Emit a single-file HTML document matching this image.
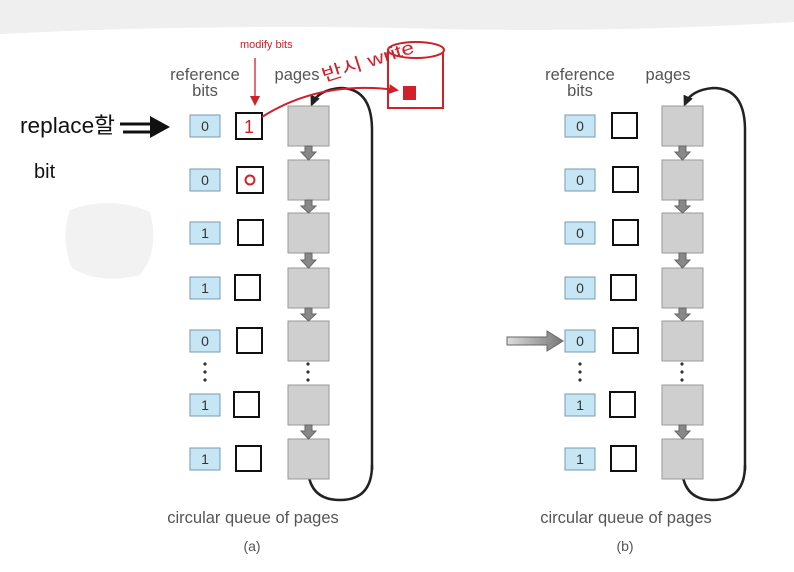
<!DOCTYPE html>
<html><head><meta charset="utf-8"><style>
body{margin:0;width:794px;height:567px;background:#fff;overflow:hidden;font-family:"Liberation Sans",sans-serif}
</style></head><body>
<svg width="794" height="567" xmlns="http://www.w3.org/2000/svg" font-family="Liberation Sans, Noto Sans CJK KR, sans-serif">
<defs>
<marker id="ah" markerUnits="userSpaceOnUse" markerWidth="12" markerHeight="12" refX="8" refY="6" orient="auto"><path d="M0,1 L11,6 L0,11 z" fill="#222"/></marker>
<marker id="rh" markerUnits="userSpaceOnUse" markerWidth="10" markerHeight="10" refX="7" refY="5" orient="auto"><path d="M0,0 L10,5 L0,10 z" fill="#d0202a"/></marker>
<linearGradient id="g" x1="0" x2="1"><stop offset="0" stop-color="#ddd"/><stop offset="1" stop-color="#777"/></linearGradient>
</defs>
<path d="M0,0 H794 V22 Q600,34 400,28 Q200,24 0,34 z" fill="#efefef"/>
<path d="M70,210 Q110,195 150,212 Q160,250 140,275 Q100,285 72,268 Q60,240 70,210z" fill="#f2f2f2"/>
<g font-size="16.5" fill="#555" text-anchor="middle">
<text x="205" y="80">reference</text><text x="205" y="96">bits</text><text x="297" y="80">pages</text>
<text x="580" y="80">reference</text><text x="580" y="96">bits</text><text x="668" y="80">pages</text>
<text x="253" y="523">circular queue of pages</text><text x="252" y="551" font-size="14">(a)</text>
<text x="626" y="523">circular queue of pages</text><text x="625" y="551" font-size="14">(b)</text>
</g>
<g stroke="#222" stroke-width="2.5" fill="none">
<path d="M372,470 V130 Q372,88 340,88 Q318,90 312,104" marker-end="url(#ah)"/>
<path d="M308,470 Q310,500 340,500 Q372,500 372,465"/>
<path d="M745,470 V130 Q745,88 713,88 Q691,90 685,104" marker-end="url(#ah)"/>
<path d="M682,470 Q684,500 713,500 Q745,500 745,465"/>
</g>
<g font-size="14" fill="#333" text-anchor="middle">
<g fill="#c6e6f6" stroke="#7a9aae"><rect x="190" y="115" width="30" height="22"/><rect x="190" y="169" width="30" height="22"/><rect x="190" y="222" width="30" height="22"/><rect x="190" y="277" width="30" height="22"/><rect x="190" y="330" width="30" height="22"/><rect x="190" y="394" width="30" height="22"/><rect x="190" y="448" width="30" height="22"/>
<rect x="565" y="115" width="30" height="22"/><rect x="565" y="169" width="30" height="22"/><rect x="565" y="222" width="30" height="22"/><rect x="565" y="277" width="30" height="22"/><rect x="565" y="330" width="30" height="22"/><rect x="565" y="394" width="30" height="22"/><rect x="565" y="448" width="30" height="22"/></g>
<text x="205" y="131">0</text><text x="205" y="185">0</text><text x="205" y="238">1</text><text x="205" y="293">1</text><text x="205" y="346">0</text><text x="205" y="410">1</text><text x="205" y="464">1</text>
<text x="580" y="131">0</text><text x="580" y="185">0</text><text x="580" y="238">0</text><text x="580" y="293">0</text><text x="580" y="346">0</text><text x="580" y="410">1</text><text x="580" y="464">1</text>
</g>
<g fill="#fff" stroke="#111" stroke-width="2">
<rect x="236" y="113" width="26" height="26"/><rect x="237" y="167" width="26" height="26"/><rect x="238" y="220" width="25" height="25"/><rect x="235" y="275" width="25" height="25"/><rect x="237" y="328" width="25" height="25"/><rect x="234" y="392" width="25" height="25"/><rect x="236" y="446" width="25" height="25"/>
<rect x="612" y="113" width="25" height="25"/><rect x="613" y="167" width="25" height="25"/><rect x="613" y="220" width="25" height="25"/><rect x="611" y="275" width="25" height="25"/><rect x="613" y="328" width="25" height="25"/><rect x="610" y="392" width="25" height="25"/><rect x="611" y="446" width="25" height="25"/>
</g>
<g fill="#cfcfcf" stroke="#999">
<rect x="288" y="106" width="41" height="40"/><rect x="288" y="160" width="41" height="40"/><rect x="288" y="213" width="41" height="40"/><rect x="288" y="268" width="41" height="40"/><rect x="288" y="321" width="41" height="40"/><rect x="288" y="385" width="41" height="40"/><rect x="288" y="439" width="41" height="40"/>
<rect x="662" y="106" width="41" height="40"/><rect x="662" y="160" width="41" height="40"/><rect x="662" y="213" width="41" height="40"/><rect x="662" y="268" width="41" height="40"/><rect x="662" y="321" width="41" height="40"/><rect x="662" y="385" width="41" height="40"/><rect x="662" y="439" width="41" height="40"/>
</g>
<g fill="#888" stroke="#666">
<path d="M305,146 h7 v6 h4 l-7.5,8 l-7.5,-8 h4z"/><path d="M305,200 h7 v6 h4 l-7.5,7 l-7.5,-7 h4z"/><path d="M305,253 h7 v7 h4 l-7.5,8 l-7.5,-8 h4z"/><path d="M305,308 h7 v6 h4 l-7.5,7 l-7.5,-7 h4z"/><path d="M305,425 h7 v6 h4 l-7.5,8 l-7.5,-8 h4z"/>
<path d="M679,146 h7 v6 h4 l-7.5,8 l-7.5,-8 h4z"/><path d="M679,200 h7 v6 h4 l-7.5,7 l-7.5,-7 h4z"/><path d="M679,253 h7 v7 h4 l-7.5,8 l-7.5,-8 h4z"/><path d="M679,308 h7 v6 h4 l-7.5,7 l-7.5,-7 h4z"/><path d="M679,425 h7 v6 h4 l-7.5,8 l-7.5,-8 h4z"/>
</g>
<g fill="#333"><circle cx="205" cy="364" r="1.6"/><circle cx="205" cy="372" r="1.6"/><circle cx="205" cy="380" r="1.6"/><circle cx="308" cy="364" r="1.6"/><circle cx="308" cy="372" r="1.6"/><circle cx="308" cy="380" r="1.6"/>
<circle cx="580" cy="364" r="1.6"/><circle cx="580" cy="372" r="1.6"/><circle cx="580" cy="380" r="1.6"/><circle cx="682" cy="364" r="1.6"/><circle cx="682" cy="372" r="1.6"/><circle cx="682" cy="380" r="1.6"/></g>
<path d="M507,337 h40 v-6 l16,10 l-16,10 v-6 h-40z" fill="url(#g)" stroke="#666"/>
<text x="20" y="133" font-size="22" fill="#111" textLength="95" lengthAdjust="spacingAndGlyphs">replace할</text>
<text x="34" y="178" font-size="20" fill="#111">bit</text>
<path d="M120,124 h32 M123,132 h30" stroke="#111" stroke-width="3"/>
<path d="M150,116 l20,11 l-20,11z" fill="#111"/>
<text x="240" y="48" font-size="11" fill="#d0202a">modify bits</text>
<path d="M255,58 V103" stroke="#d0202a" stroke-width="1.3" marker-end="url(#rh)"/>
<text x="249" y="133" font-size="18" fill="#d0202a" text-anchor="middle">1</text>
<circle cx="250" cy="180" r="4.5" fill="none" stroke="#d0202a" stroke-width="2"/>
<g stroke="#d0202a" stroke-width="2" fill="#fff"><path d="M388,50 V108 H443 V50"/><ellipse cx="416" cy="50" rx="28" ry="8"/></g>
<path d="M262,117 Q320,80 396,90" stroke="#d0202a" stroke-width="2" fill="none" marker-end="url(#rh)"/>
<text x="324" y="82" font-size="18" fill="#d0202a" transform="rotate(-18 324 82)" textLength="96" lengthAdjust="spacingAndGlyphs">반시 write</text>
<rect x="403" y="86" width="13" height="14" fill="#d0202a"/>
</svg>
</body></html>
